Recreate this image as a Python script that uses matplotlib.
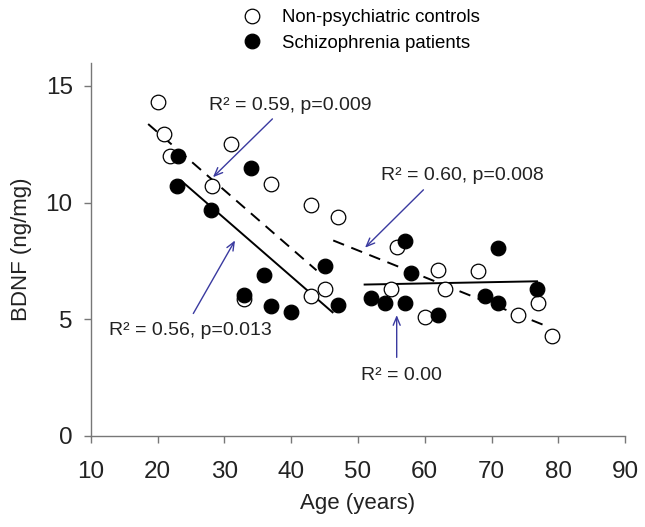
import matplotlib
matplotlib.use("Agg")
import matplotlib.pyplot as plt

plt.rcParams['font.family'] = ['Liberation Sans', 'DejaVu Sans']

# controls (open circles)
ctrl_age = [20, 21, 21.9, 28.1, 31, 33, 37, 43, 47, 45, 43,
            55.8, 62, 68, 55, 63, 77, 60, 74, 79]
ctrl_bdnf = [14.3, 12.95, 12.0, 10.7, 12.5, 5.85, 10.8, 9.9, 9.4, 6.3, 6.0,
             8.1, 7.1, 7.05, 6.3, 6.3, 5.7, 5.1, 5.2, 4.3]

# schizophrenia patients (filled circles)
scz_age = [23.1, 34, 22.9, 28, 45, 36, 33, 37, 40, 47,
           57, 71, 58, 76.8, 52, 54, 57, 69, 71, 62]
scz_bdnf = [12.0, 11.5, 10.7, 9.7, 7.3, 6.9, 6.05, 5.55, 5.3, 5.6,
            8.35, 8.05, 7.0, 6.3, 5.9, 5.7, 5.7, 6.0, 5.7, 5.2]

# regression lines (endpoints)
ctrl_young_x, ctrl_young_y = [18.6, 43.8], [13.37, 7.10]
ctrl_old_x, ctrl_old_y = [46.3, 78.3], [8.38, 4.70]
scz_young_x, scz_young_y = [23.5, 46.2], [10.95, 5.30]
scz_old_x, scz_old_y = [51.0, 76.8], [6.49, 6.63]

# annotations: text, text position, arrow tail, arrow tip
notes = [
    ("R² = 0.59, p=0.009", (39.9, 14.16), (37.2, 13.59), (28.3, 11.09)),
    ("R² = 0.60, p=0.008", (65.7, 11.18), (59.8, 10.55), (51.06, 8.07)),
    ("R² = 0.56, p=0.013", (24.9, 4.53), (25.36, 5.25), (31.6, 8.38)),
    ("R² = 0.00", (56.5, 2.61), (55.8, 3.37), (55.8, 5.18)),
]

fig = plt.figure(figsize=(6.45, 5.27), dpi=100)
ax = fig.add_axes([0.1406, 0.1727, 0.8287, 0.7084])

ax.plot(ctrl_young_x, ctrl_young_y, color='black', lw=1.4, ls=(0, (6, 4)))
ax.plot(ctrl_old_x, ctrl_old_y, color='black', lw=1.4, ls=(0, (6, 4)))
ax.plot(scz_young_x, scz_young_y, color='black', lw=1.4)
ax.plot(scz_old_x, scz_old_y, color='black', lw=1.4)

h1, = ax.plot(ctrl_age, ctrl_bdnf, 'o', ms=10.5, mfc='white', mec='black',
              mew=0.9, ls='none', label='Non-psychiatric controls')
h2, = ax.plot(scz_age, scz_bdnf, 'o', ms=10.5, mfc='black', mec='black',
              mew=0.9, ls='none', label='Schizophrenia patients')

for txt, tpos, tail, tip in notes:
    ax.annotate('', xy=tip, xytext=tail,
                arrowprops=dict(arrowstyle='->,head_length=0.6,head_width=0.25',
                                color='#3a3aa0', lw=1.0, shrinkA=0, shrinkB=0))
    ax.text(tpos[0], tpos[1], txt, ha='center', va='center', fontsize=14,
            color='#222222')

ax.set_xlim(10, 90)
ax.set_ylim(0, 16)
ax.set_xticks(range(10, 91, 10))
ax.set_yticks([0, 5, 10, 15])
for s in ['top', 'right']:
    ax.spines[s].set_visible(False)
for s in ['left', 'bottom']:
    ax.spines[s].set_color('#777777')
    ax.spines[s].set_linewidth(1.0)
ax.tick_params(colors='#777777', labelcolor='#222222', labelsize=17.5,
               length=5, width=1.0)
ax.tick_params(axis='x', pad=13)
ax.tick_params(axis='y', pad=8)
ax.set_xlabel('Age (years)', fontsize=16, color='#222222', labelpad=7)
ax.set_ylabel('BDNF (ng/mg)', fontsize=16, color='#222222', labelpad=10)

fig.legend(handles=[h1, h2], loc='upper left', bbox_to_anchor=(0.362, 1.0),
           frameon=False, fontsize=13.4, handlelength=1.0, handletextpad=1.08,
           labelspacing=0.46, borderpad=0.0)

fig.savefig('out.png', dpi=100)
